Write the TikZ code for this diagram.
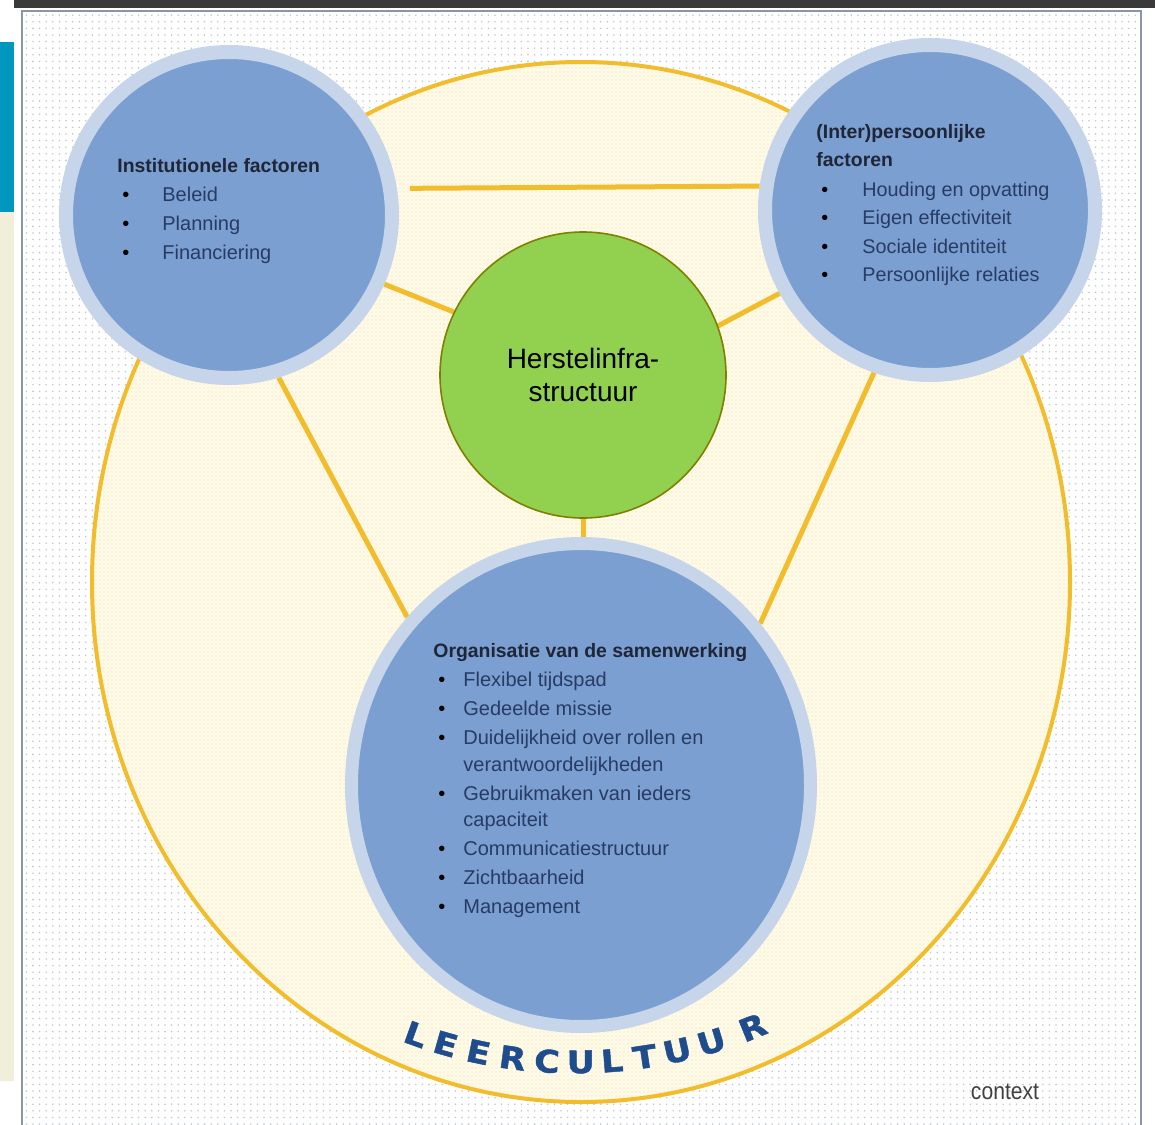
\documentclass[tikz,border=0pt]{standalone}
\usepackage{fontspec}
\setmainfont{Liberation Sans}
\newfontfamily\leerfont[BoldFeatures={FakeBold=1.5,FakeStretch=1.12}]{DejaVu Sans}
\usetikzlibrary{shapes.geometric,patterns.meta}
\pgfdeclarelayer{back}
\pgfdeclarelayer{links}
\pgfsetlayers{back,links,main}
\definecolor{tealbar}{HTML}{0097BE}
\definecolor{creamstrip}{HTML}{F1EEDA}
\definecolor{topbar}{HTML}{3A3A3A}
\definecolor{framecol}{HTML}{8C96A3}
\definecolor{dotgray}{HTML}{C2C7CF}
\definecolor{ellfill}{HTML}{FFFAE8}
\definecolor{elldot}{HTML}{F2DC9C}
\definecolor{gold}{HTML}{F2BD2C}
\definecolor{ringcol}{HTML}{C7D5EA}
\definecolor{bluefill}{HTML}{7B9FD0}
\definecolor{greenfill}{HTML}{92D050}
\definecolor{greenline}{HTML}{7F7F00}
\definecolor{titlecol}{HTML}{1E2638}
\definecolor{itemcol}{HTML}{283B64}
\definecolor{leercol}{HTML}{1F4C8C}
\definecolor{ctxcol}{HTML}{404040}
\newcommand{\itm}[2]{\hspace*{2.5pt}\makebox[#1][l]{\color{black}\textbullet}#2}
\newcommand{\ttl}[1]{{\fontsize{9.7}{14.5}\selectfont\bfseries\color{titlecol}#1}}
\begin{document}
\begin{tikzpicture}[x=0.5pt,y=-0.5pt,
  link/.style={draw=gold, line width=2.5pt},
  factor/.style={circle, draw=ringcol, fill=bluefill, inner sep=0pt},
  blocktext/.style={anchor=north west, inner sep=0pt, align=left,
    text=itemcol, font=\fontsize{10}{14.5}\selectfont},
  leer/.style={inner sep=0pt, text=leercol, font=\leerfont\bfseries\fontsize{15.5}{15.5}\selectfont}]
\useasboundingbox (0,0) rectangle (1155,1124);
\begin{pgfonlayer}{back}
\fill[white] (0,0) rectangle (1155,1124);
% side strips and top bar
\fill[tealbar] (0,42) rectangle (14,212);
\fill[creamstrip] (0,212) rectangle (14,1081);
\fill[topbar] (14,0) rectangle (1155,8);
% frame with dotted background
\fill[white] (22,11) rectangle (1141,1130);
\fill[pattern={Dots[distance=3.3pt,radius=0.45pt]}, pattern color=dotgray] (22,11) rectangle (1141,1130);
\draw[framecol, line width=1pt] (22,11) rectangle (1141,1130);
% big ellipse (leercultuur)
\fill[ellfill] (581,582) ellipse [x radius=489, y radius=520];
\fill[pattern={Dots[distance=2pt,radius=0.35pt]}, pattern color=elldot] (581,582) ellipse [x radius=489, y radius=520];
\draw[gold, line width=2pt] (581,582) ellipse [x radius=489, y radius=520];
\end{pgfonlayer}
% circles
\node[factor, line width=7pt, minimum size=163pt] (tl) at (229,215) {};
\node[factor, line width=7pt, minimum size=165pt] (tr) at (930,210) {};
\node[factor, ellipse, line width=6.5pt, minimum width=229.5pt, minimum height=241.5pt] (bot) at (581,785) {};
\node[circle, draw=greenline, fill=greenfill, line width=0.8pt, minimum size=143pt, inner sep=0pt,
  align=center, font=\fontsize{14}{16.5}\selectfont] (green) at (583,375) {Herstelinfra-\\structuur};
% connectors
\begin{pgfonlayer}{links}
\draw[link, shorten <=6.5pt] (tl.9) -- (tr.172.5);
\draw[link] (tl.-24.5) -- (green.154.7);
\draw[link] (tr.-151.3) -- (green.20.2);
\draw[link] (green.south) -- (green.south |- bot.north);
\draw[link] (tl.-73) -- (bot.136);
\draw[link] (tr.-109.7) -- (bot.42.5);
\end{pgfonlayer}
% texts
\node[blocktext] (tltext) at (117,158) {\ttl{Institutionele factoren}\\
  \itm{20pt}{Beleid}\\
  \itm{20pt}{Planning}\\
  \itm{20pt}{Financiering}};
\node[blocktext, font=\fontsize{9.9}{14.2}\selectfont] (trtext) at (816,124) {\ttl{(Inter)persoonlijke}\\
  \ttl{factoren}\\[0.6pt]
  \itm{20.5pt}{Houding en opvatting}\\
  \itm{20.5pt}{Eigen effectiviteit}\\
  \itm{20.5pt}{Sociale identiteit}\\
  \itm{20.5pt}{Persoonlijke relaties}};
\node[blocktext] (bottext) at (433,643.5) {\ttl{Organisatie van de samenwerking}\\
  \itm{12.5pt}{Flexibel tijdspad}\\
  \itm{12.5pt}{Gedeelde missie}\\
  \itm{12.5pt}{Duidelijkheid over rollen en}\\[-1.2pt]
  \hspace*{15pt}verantwoordelijkheden\\
  \itm{12.5pt}{Gebruikmaken van ieders}\\[-1.5pt]
  \hspace*{15pt}capaciteit\\
  \itm{12.5pt}{Communicatiestructuur}\\
  \itm{12.5pt}{Zichtbaarheid}\\
  \itm{12.5pt}{Management}};
% LEERCULTUUR along the arc
\begin{scope}[shift={(575,590)}]
\foreach \t/\ch [count=\i] in {109.7/L,105.9/E,101.8/E,97.6/R,93.4/C,89.3/U,85.5/L,81.5/T,77.5/U,73.2/U,67.9/R}{
  \node[leer, rotate={90-\t}] (leer\i) at (\t:472) {\ch};
}
\end{scope}
\node[inner sep=0pt, text=ctxcol, font=\fontsize{12}{14}\selectfont] (ctx) at (1005,1092) {\scalebox{0.88}[1]{context}};
\end{tikzpicture}
\end{document}
